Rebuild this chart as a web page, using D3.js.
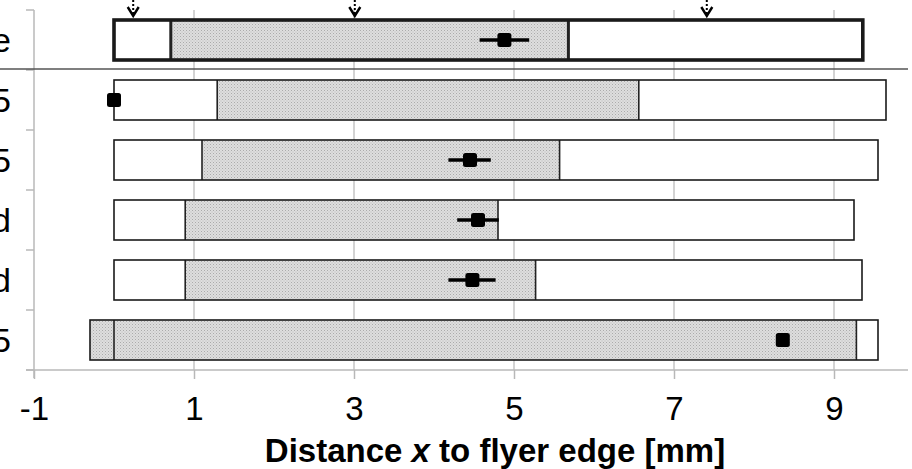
<!DOCTYPE html>
<html><head><meta charset="utf-8">
<script src="https://cdn.jsdelivr.net/npm/d3@7"></script>
<style>body{margin:0;background:#fff}svg{display:block}</style>
</head><body>
<svg id="c" width="912" height="469"></svg>
<script>
// ---- data ----
const categories = ["Average", "Flyer A 1.5", "Flyer B 2.5", "Folded", "Printed", "Flyer C 0.5"];
const barStart  = [0, 0, 0, 0, 0, -0.30];
const grayStart = [0.71, 1.29, 1.10, 0.89, 0.89, -0.30];
const grayEnd   = [5.68, 6.56, 5.57, 4.80, 5.27, 9.28];
const barEnd    = [9.36, 9.65, 9.55, 9.25, 9.35, 9.55];
const dividerA  = [0.71, 1.29, 1.10, 0.89, 0.89, 0];
const dividerB  = [5.68, 6.56, 5.57, 4.80, 5.27, 9.28];
const markerVal = [4.88, 0.00, 4.45, 4.55, 4.48, 8.36];
const errLow    = [4.57, null, 4.18, 4.29, 4.18, null];
const errHigh   = [5.19, null, 4.71, 4.81, 4.77, null];
const arrowVals = [0.24, 3.01, 7.41];
const xTicks    = [-1, 1, 3, 5, 7, 9];
const xTitle    = ["Distance ", "x", " to flyer edge [mm]"];

// ---- layout ----
const svg = d3.select("#c");
const FONT = "'Liberation Sans', Arial, sans-serif";
const x = d3.scaleLinear().domain([-1, 9]).range([34, 834]);
const y = d3.scaleBand().domain(categories).range([10, 370]).paddingInner(1/3).paddingOuter(1/6);
const gap = (y.step() - y.bandwidth()) / 2;

// pattern for gray fill
const defs = svg.append("defs");
const pat = defs.append("pattern").attr("id", "dots").attr("patternUnits", "userSpaceOnUse")
  .attr("width", 3).attr("height", 3);
pat.append("rect").attr("width", 3).attr("height", 3).attr("fill", "#dedede");
pat.append("rect").attr("x", 0).attr("y", 0).attr("width", 1).attr("height", 1).attr("fill", "#ababab");
pat.append("rect").attr("x", 1.5).attr("y", 1.5).attr("width", 1).attr("height", 1).attr("fill", "#bdbdbd");

// gridlines
svg.append("g").selectAll("line").data(xTicks.filter(d => d > -1)).join("line")
  .attr("x1", d => x(d)).attr("x2", d => x(d))
  .attr("y1", 10).attr("y2", 370)
  .attr("stroke", "#c4c4c4").attr("stroke-width", 1.5);

// x axis
const xAxis = svg.append("g").attr("transform", "translate(0,370)")
  .call(d3.axisBottom(x).tickValues(xTicks).tickSize(9).tickPadding(18).tickFormat(d3.format("d")));
xAxis.select(".domain").remove();
xAxis.selectAll(".tick line").attr("stroke", "#b8b8b8").attr("stroke-width", 1.5);
xAxis.selectAll(".tick text").attr("font-family", FONT).attr("font-size", 33).attr("fill", "#000")
  .attr("dy", "0.71em").text(d => d < 0 ? "-" + Math.abs(d) : d);
svg.append("line").attr("x1", 26).attr("x2", 908).attr("y1", 370).attr("y2", 370)
  .attr("stroke", "#b8b8b8").attr("stroke-width", 1.5);

// y axis
svg.append("line").attr("x1", x(-1)).attr("x2", x(-1)).attr("y1", 10).attr("y2", 378)
  .attr("stroke", "#b8b8b8").attr("stroke-width", 1.5);
const bounds = categories.map(c => y(c) - gap).concat([y(categories[categories.length - 1]) + y.bandwidth() + gap]);
svg.append("g").selectAll("line").data(bounds).join("line")
  .attr("x1", 26).attr("x2", x(-1)).attr("y1", d => d).attr("y2", d => d)
  .attr("stroke", "#b8b8b8").attr("stroke-width", 1.5);
svg.append("g").selectAll("text").data(categories).join("text")
  .attr("x", 11).attr("y", d => y(d) + y.bandwidth() / 2)
  .attr("dy", "0.36em").attr("text-anchor", "end")
  .attr("font-family", FONT).attr("font-size", 34).attr("fill", "#000").text(d => d);

// separator line below first row
svg.append("line").attr("x1", 0).attr("x2", 908)
  .attr("y1", y(categories[0]) + y.bandwidth() + gap - 1).attr("y2", y(categories[0]) + y.bandwidth() + gap - 1)
  .attr("stroke", "#555").attr("stroke-width", 1.6);

// bars
const rows = categories.map((c, i) => ({c, i}));
const g = svg.append("g");
g.selectAll("rect.fillw").data(rows).join("rect").attr("class", "fillw")
  .attr("x", d => x(barStart[d.i])).attr("width", d => x(barEnd[d.i]) - x(barStart[d.i]))
  .attr("y", d => y(d.c)).attr("height", y.bandwidth()).attr("fill", "#fff");
g.selectAll("rect.gray").data(rows).join("rect").attr("class", "gray")
  .attr("x", d => x(grayStart[d.i])).attr("width", d => x(grayEnd[d.i]) - x(grayStart[d.i]))
  .attr("y", d => y(d.c)).attr("height", y.bandwidth()).attr("fill", "url(#dots)");
g.selectAll("line.da").data(rows).join("line").attr("class", "da")
  .attr("x1", d => x(dividerA[d.i])).attr("x2", d => x(dividerA[d.i]))
  .attr("y1", d => y(d.c)).attr("y2", d => y(d.c) + y.bandwidth())
  .attr("stroke", "#222").attr("stroke-width", d => d.i === 0 ? 3 : 1.6);
g.selectAll("line.db").data(rows).join("line").attr("class", "db")
  .attr("x1", d => x(dividerB[d.i])).attr("x2", d => x(dividerB[d.i]))
  .attr("y1", d => y(d.c)).attr("y2", d => y(d.c) + y.bandwidth())
  .attr("stroke", "#222").attr("stroke-width", d => d.i === 0 ? 3 : 1.6);
g.selectAll("rect.outline").data(rows).join("rect").attr("class", "outline")
  .attr("x", d => x(barStart[d.i])).attr("width", d => x(barEnd[d.i]) - x(barStart[d.i]))
  .attr("y", d => y(d.c)).attr("height", y.bandwidth())
  .attr("fill", "none").attr("stroke", "#1a1a1a").attr("stroke-width", d => d.i === 0 ? 3.6 : 1.6);

// error bars
g.selectAll("line.err").data(rows.filter(d => errLow[d.i] !== null)).join("line").attr("class", "err")
  .attr("x1", d => x(errLow[d.i])).attr("x2", d => x(errHigh[d.i]))
  .attr("y1", d => y(d.c) + y.bandwidth() / 2).attr("y2", d => y(d.c) + y.bandwidth() / 2)
  .attr("stroke", "#000").attr("stroke-width", 3.5);
// markers
g.selectAll("rect.mk").data(rows).join("rect").attr("class", "mk")
  .attr("x", d => x(markerVal[d.i]) - 7).attr("y", d => y(d.c) + y.bandwidth() / 2 - 7)
  .attr("width", 14).attr("height", 14).attr("rx", 2.5).attr("fill", "#000");

// arrows at top
const ag = svg.append("g").selectAll("g").data(arrowVals).join("g")
  .attr("transform", d => `translate(${x(d)},0)`);
ag.append("line").attr("x1", 0).attr("x2", 0).attr("y1", 0).attr("y2", 15)
  .attr("stroke", "#000").attr("stroke-width", 2).attr("stroke-dasharray", "2,2");
ag.append("path").attr("d", "M-5.5,7 L0,16 L5.5,7").attr("fill", "none")
  .attr("stroke", "#000").attr("stroke-width", 2.4);

// x title
const t = svg.append("text").attr("x", 495).attr("y", 462).attr("text-anchor", "middle")
  .attr("font-family", FONT).attr("font-size", 33).attr("font-weight", "bold").attr("fill", "#000");
t.selectAll("tspan").data(xTitle).join("tspan")
  .attr("font-style", (d, i) => i === 1 ? "italic" : "normal").text(d => d);
</script>
</body></html>
